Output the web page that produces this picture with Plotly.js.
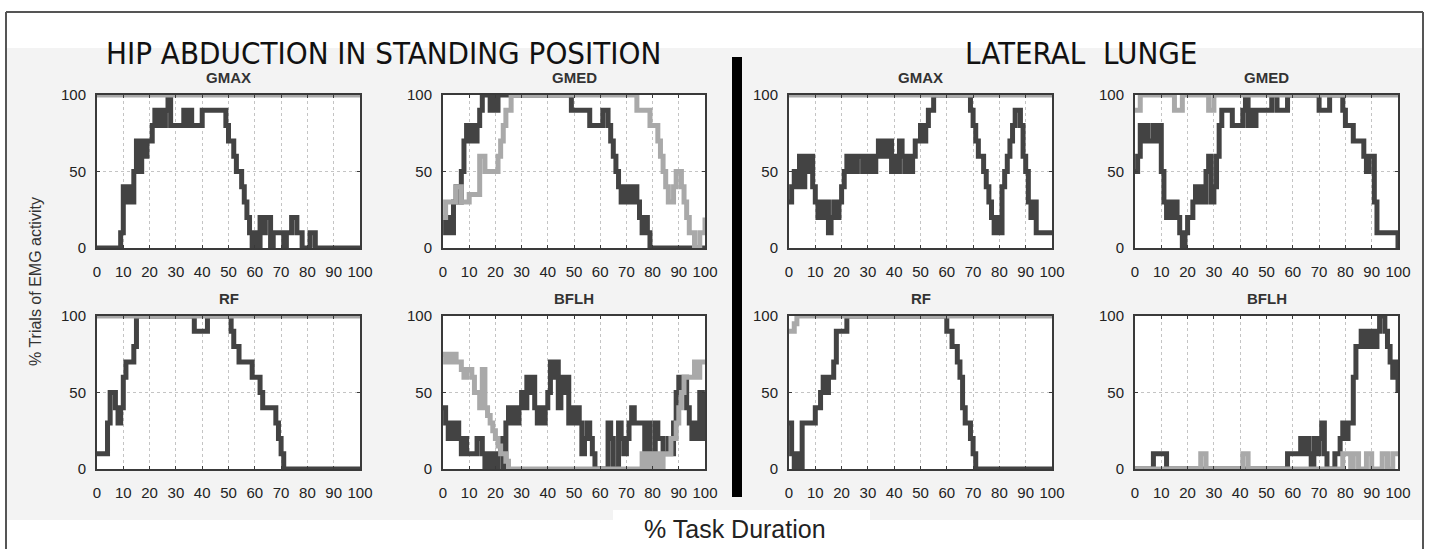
<!DOCTYPE html>
<html><head><meta charset="utf-8">
<script src="https://cdn.plot.ly/plotly-3.0.1.min.js"></script>
<style>html,body{margin:0;padding:0;background:#fff;}#chart{width:1431px;height:549px;}</style>
</head><body><div id="chart"></div>
<script>
// x grid: % task duration, sampled every 1 %
const taskPct = Array.from({length:101},(_,i)=>i);
const xTicks = [0,10,20,30,40,50,60,70,80,90,100];
const yTicks = [0,50,100];

const panelTitles = ['GMAX','GMED','GMAX','GMED','RF','BFLH','RF','BFLH'];
const sectionTitles = ['HIP ABDUCTION IN STANDING POSITION','LATERAL  LUNGE'];
const xAxisLabel = '% Task Duration';
const yAxisLabel = '% Trials of EMG activity';

// HIP ABDUCTION IN STANDING POSITION
const hipGmaxDark = [0,0,0,0,0,0,0,0,0,10, 40,30,40,30,50,70,50,70,60,70, 70,80,90,80,90,80,90,100,80,80, 80,80,80,90,80,90,80,80,80,80, 90,90,90,90,90,90,90,90,90,80, 70,70,60,50,50,40,30,20,10,0, 10,0,20,10,20,20,0,10,10,10, 10,0,10,10,20,20,10,10,0,0, 0,10,10,0,0,0,0,0,0,0, 0,0,0,0,0,0,0,0,0,0, 0];
const hipGmaxGray = [100,100,100,100,100,100,100,100,100,100, 100,100,100,100,100,100,100,100,100,100, 100,100,100,100,100,100,100,100,100,100, 100,100,100,100,100,100,100,100,100,100, 100,100,100,100,100,100,100,100,100,100, 100,100,100,100,100,100,100,100,100,100, 100,100,100,100,100,100,100,100,100,100, 100,100,100,100,100,100,100,100,100,100, 100,100,100,100,100,100,100,100,100,100, 100,100,100,100,100,100,100,100,100,100, 100];
const hipGmedDark = [20,10,20,10,30,40,30,50,70,80, 70,80,70,80,90,100,100,100,90,100, 90,100,100,100,100,100,100,100,100,100, 100,100,100,100,100,100,100,100,100,100, 100,100,100,100,100,100,100,100,100,90, 90,90,90,90,90,90,80,80,80,80, 80,90,90,80,70,60,50,40,30,40, 30,40,30,40,30,20,10,20,10,0, 0,0,0,0,0,0,0,0,0,0, 0,0,0,0,0,0,0,0,0,0, 0];
const hipGmedGray = [20,30,30,30,30,40,40,30,30,30, 35,35,35,35,60,60,50,50,50,50, 50,60,70,80,90,90,100,100,100,100, 100,100,100,100,100,100,100,100,100,100, 100,100,100,100,100,100,100,100,100,100, 100,100,100,100,100,100,100,100,100,100, 100,100,100,100,100,100,100,100,100,100, 100,100,100,100,90,90,90,90,90,80, 80,80,70,60,50,40,30,30,40,50, 50,40,30,20,10,10,0,0,10,10, 20];
const hipRfDark = [10,10,10,10,30,50,50,40,30,40, 60,70,70,70,80,100,100,100,100,100, 100,100,100,100,100,100,100,100,100,100, 100,100,100,100,100,100,100,90,90,90, 90,90,100,100,100,100,100,100,100,100, 100,90,80,80,70,70,70,70,70,60, 60,60,50,40,40,40,40,40,30,20, 10,0,0,0,0,0,0,0,0,0, 0,0,0,0,0,0,0,0,0,0, 0,0,0,0,0,0,0,0,0,0, 0];
const hipRfGray = [100,100,100,100,100,100,100,100,100,100, 100,100,100,100,100,100,100,100,100,100, 100,100,100,100,100,100,100,100,100,100, 100,100,100,100,100,100,100,100,100,100, 100,100,100,100,100,100,100,100,100,100, 100,100,100,100,100,100,100,100,100,100, 100,100,100,100,100,100,100,100,100,100, 100,100,100,100,100,100,100,100,100,100, 100,100,100,100,100,100,100,100,100,100, 100,100,100,100,100,100,100,100,100,100, 100];
const hipBflhDark = [40,30,20,30,20,30,20,10,20,10, 10,10,10,20,20,10,0,10,0,10, 0,10,20,0,30,40,30,40,30,40, 50,40,60,50,60,40,30,40,30,40, 50,70,60,70,40,60,50,60,30,40, 30,40,30,10,20,30,20,10,0,0, 0,0,0,30,20,0,0,30,20,10, 20,30,40,30,30,30,30,10,30,10, 10,30,20,20,10,10,20,10,30,50, 60,50,60,40,30,20,30,20,50,20, 50];
const hipBflhGray = [75,70,75,70,75,70,70,65,60,65, 65,60,50,50,40,65,40,35,30,25, 20,15,10,10,5,0,0,0,0,0, 0,0,0,0,0,0,0,0,0,0, 0,0,0,0,0,0,0,0,0,0, 0,0,0,0,0,0,0,0,0,0, 0,0,0,0,0,0,0,0,0,0, 0,0,0,0,0,0,10,0,10,0, 10,0,10,0,10,10,10,20,20,30, 40,50,60,60,60,60,70,60,70,70, 70];

// LATERAL LUNGE
const lungeGmaxDark = [30,40,50,40,60,40,60,50,60,40, 30,20,30,20,30,10,20,30,20,30, 40,50,60,50,60,50,60,60,50,60, 50,60,50,60,70,60,70,60,70,50, 60,50,70,60,50,60,50,60,70,70, 80,70,80,90,90,100,100,100,100,100, 100,100,100,100,100,100,100,100,100,90, 80,70,60,60,50,40,30,20,10,20, 10,40,50,60,70,80,90,90,80,60, 50,30,20,30,10,10,10,10,10,10, 10];
const lungeGmaxGray = [100,100,100,100,100,100,100,100,100,100, 100,100,100,100,100,100,100,100,100,100, 100,100,100,100,100,100,100,100,100,100, 100,100,100,100,100,100,100,100,100,100, 100,100,100,100,100,100,100,100,100,100, 100,100,100,100,100,100,100,100,100,100, 100,100,100,100,100,100,100,100,100,100, 100,100,100,100,100,100,100,100,100,100, 100,100,100,100,100,100,100,100,100,100, 100,100,100,100,100,100,100,100,100,100, 100];
const lungeGmedDark = [50,60,80,70,80,70,70,80,70,80, 50,30,20,30,20,30,20,10,0,10, 20,20,30,40,30,40,30,50,60,30, 40,60,80,90,90,90,90,80,80,80, 80,90,100,80,90,80,90,90,90,90, 90,90,100,100,90,90,90,90,100,100, 100,100,100,100,100,100,100,100,100,100, 90,90,90,90,100,100,100,100,100,90, 80,80,80,70,70,70,70,60,50,60, 60,30,10,10,10,10,10,10,10,10, 0];
const lungeGmedGray = [90,90,100,100,100,100,100,100,100,100, 100,100,100,100,100,90,90,90,100,100, 100,100,100,100,100,100,100,100,90,90, 100,100,100,100,100,100,100,100,100,100, 100,100,100,100,100,100,100,100,100,100, 100,100,100,100,100,100,100,100,100,100, 100,100,100,100,100,100,100,100,100,100, 100,100,100,100,100,100,100,100,100,100, 100,100,100,100,100,100,100,100,100,100, 100,100,100,100,100,100,100,100,100,100, 100];
const lungeRfDark = [30,10,0,10,0,30,30,30,30,30, 40,40,50,60,50,60,60,70,90,90, 90,90,100,100,100,100,100,100,100,100, 100,100,100,100,100,100,100,100,100,100, 100,100,100,100,100,100,100,100,100,100, 100,100,100,100,100,100,100,100,100,100, 90,90,80,80,70,60,40,30,30,20, 10,0,0,0,0,0,0,0,0,0, 0,0,0,0,0,0,0,0,0,0, 0,0,0,0,0,0,0,0,0,0, 0];
const lungeRfGray = [90,90,95,100,100,100,100,100,100,100, 100,100,100,100,100,100,100,100,100,100, 100,100,100,100,100,100,100,100,100,100, 100,100,100,100,100,100,100,100,100,100, 100,100,100,100,100,100,100,100,100,100, 100,100,100,100,100,100,100,100,100,100, 100,100,100,100,100,100,100,100,100,100, 100,100,100,100,100,100,100,100,100,100, 100,100,100,100,100,100,100,100,100,100, 100,100,100,100,100,100,100,100,100,100, 100];
const lungeBflhDark = [0,0,0,0,0,0,0,10,10,10, 10,10,0,0,0,0,0,0,0,0, 0,0,0,0,0,0,0,0,0,0, 0,0,0,0,0,0,0,0,0,0, 0,0,0,0,0,0,0,0,0,0, 0,0,0,0,0,0,0,0,10,10, 10,10,10,20,10,20,10,0,20,10, 20,30,10,0,0,0,10,10,20,30, 20,30,30,60,80,80,90,80,90,80, 90,80,90,100,100,90,80,70,60,70, 50];
const lungeBflhGray = [0,0,0,0,0,0,0,0,0,0, 0,0,0,0,0,0,0,0,0,0, 0,0,0,0,0,10,10,0,0,0, 0,0,0,0,0,0,0,0,0,0, 0,10,10,0,0,0,0,0,0,0, 0,0,0,0,0,0,0,0,0,0, 0,0,0,0,0,0,0,0,0,0, 0,0,0,0,0,0,0,0,0,10, 10,10,0,10,10,0,0,0,10,10, 0,0,0,0,10,10,0,0,10,10, 10];

const darkSeries = [hipGmaxDark,hipGmedDark,lungeGmaxDark,lungeGmedDark,hipRfDark,hipBflhDark,lungeRfDark,lungeBflhDark];
const graySeries = [hipGmaxGray,hipGmedGray,lungeGmaxGray,lungeGmedGray,hipRfGray,hipBflhGray,lungeRfGray,lungeBflhGray];

// ---- layout geometry (pixels) ----
const W = 1431, H = 549;
const colPx = [[97,360],[443,705],[789,1052],[1135,1398]];
const rowPx = [[95,248],[316,469]];
const fx = p => p / W;
const fy = p => 1 - p / H;

const tickFont = {family:'Liberation Sans, Arial, sans-serif', size:15, color:'#222'};
const traces = [];
const layout = {
  width: W, height: H,
  margin: {l:0, r:0, t:0, b:0},
  paper_bgcolor: '#ffffff',
  plot_bgcolor: '#ffffff',
  showlegend: false,
  shapes: [], annotations: []
};

// background & frame (drawn first so plot-area whites sit above the grey)
layout.shapes.push({type: 'rect', xref: 'paper', yref: 'paper', x0: fx(7), x1: fx(1422), y0: fy(520), y1: fy(48),
  fillcolor: '#f3f3f3', line: {width: 0}, layer: 'below'});
layout.shapes.push({type: 'rect', xref: 'paper', yref: 'paper', x0: fx(613), x1: fx(870), y0: fy(521), y1: fy(510),
  fillcolor: '#ffffff', line: {width: 0}, layer: 'below'});

for (let i = 0; i < 8; i++) {
  const c = i % 4, r = Math.floor(i / 4);
  const s = i === 0 ? '' : String(i + 1);
  traces.push({x: taskPct, y: darkSeries[i], xaxis: 'x' + s, yaxis: 'y' + s, type: 'scatter', mode: 'lines',
    line: {shape: 'hv', width: 5, color: '#434343', simplify: false}, hoverinfo: 'skip'});
  traces.push({x: taskPct, y: graySeries[i], xaxis: 'x' + s, yaxis: 'y' + s, type: 'scatter', mode: 'lines',
    line: {shape: 'hv', width: 5, color: '#a9a9a9', simplify: false}, hoverinfo: 'skip'});
  const common = {showline: true, linecolor: '#3a3a3a', linewidth: 2, mirror: 'ticks',
    ticks: 'inside', ticklen: 3, tickcolor: '#3a3a3a', tickwidth: 1,
    showgrid: true, gridcolor: '#c4c4c4', griddash: 'dot', gridwidth: 1,
    zeroline: false, fixedrange: true, tickfont: tickFont};
  layout['xaxis' + s] = Object.assign({}, common, {
    domain: [fx(colPx[c][0]), fx(colPx[c][1])], range: [0, 100],
    tickmode: 'array', tickvals: xTicks, ticktext: xTicks.map(String),
    anchor: 'y' + s, ticklabelstandoff: 9});
  layout['yaxis' + s] = Object.assign({}, common, {
    domain: [fy(rowPx[r][1]), fy(rowPx[r][0])], range: [0, 100],
    tickmode: 'array', tickvals: yTicks, ticktext: yTicks.map(String),
    anchor: 'x' + s, ticklabelstandoff: 6});
  // white plotting area over the grey panel background
  layout.shapes.push({type: 'rect', xref: 'paper', yref: 'paper',
    x0: fx(colPx[c][0]), x1: fx(colPx[c][1]), y0: fy(rowPx[r][1]), y1: fy(rowPx[r][0]),
    fillcolor: '#ffffff', line: {width: 0}, layer: 'below'});
  layout.annotations.push({text: '<b>' + panelTitles[i] + '</b>', xref: 'paper', yref: 'paper',
    x: fx((colPx[c][0] + colPx[c][1]) / 2), y: fy(rowPx[r][0] - 18), xanchor: 'center', yanchor: 'middle',
    showarrow: false, font: {family: 'Liberation Sans, Arial, sans-serif', size: 15, color: '#333'}});
}

// section titles
const titleFont = {family: 'Liberation Sans Narrow, DejaVu Sans Condensed, sans-serif', size: 31, color: '#111'};
layout.annotations.push({text: sectionTitles[0], xref: 'paper', yref: 'paper', x: fx(383), y: fy(53),
  xanchor: 'center', yanchor: 'middle', showarrow: false, font: titleFont});
layout.annotations.push({text: sectionTitles[1], xref: 'paper', yref: 'paper', x: fx(1081), y: fy(53),
  xanchor: 'center', yanchor: 'middle', showarrow: false, font: titleFont});
layout.annotations.push({text: xAxisLabel, xref: 'paper', yref: 'paper', x: fx(735), y: fy(529),
  xanchor: 'center', yanchor: 'middle', showarrow: false,
  font: {family: 'Liberation Sans, Arial, sans-serif', size: 25, color: '#222'}});
layout.annotations.push({text: yAxisLabel, xref: 'paper', yref: 'paper', x: fx(35), y: fy(282),
  xanchor: 'center', yanchor: 'middle', showarrow: false, textangle: -90,
  font: {family: 'Liberation Sans, Arial, sans-serif', size: 16, color: '#333'}});

layout.shapes.push({type: 'line', xref: 'paper', yref: 'paper', x0: fx(6), x1: fx(1423), y0: fy(12), y1: fy(12),
  line: {color: '#555', width: 2}});
layout.shapes.push({type: 'line', xref: 'paper', yref: 'paper', x0: fx(6), x1: fx(6), y0: fy(12), y1: fy(549),
  line: {color: '#555', width: 2}});
layout.shapes.push({type: 'line', xref: 'paper', yref: 'paper', x0: fx(1423), x1: fx(1423), y0: fy(12), y1: fy(549),
  line: {color: '#555', width: 2}});
layout.shapes.push({type: 'rect', xref: 'paper', yref: 'paper', x0: fx(732), x1: fx(742), y0: fy(497), y1: fy(57),
  fillcolor: '#000', line: {width: 0}});

Plotly.newPlot('chart', traces, layout, {displayModeBar: false, staticPlot: true});
</script></body></html>
